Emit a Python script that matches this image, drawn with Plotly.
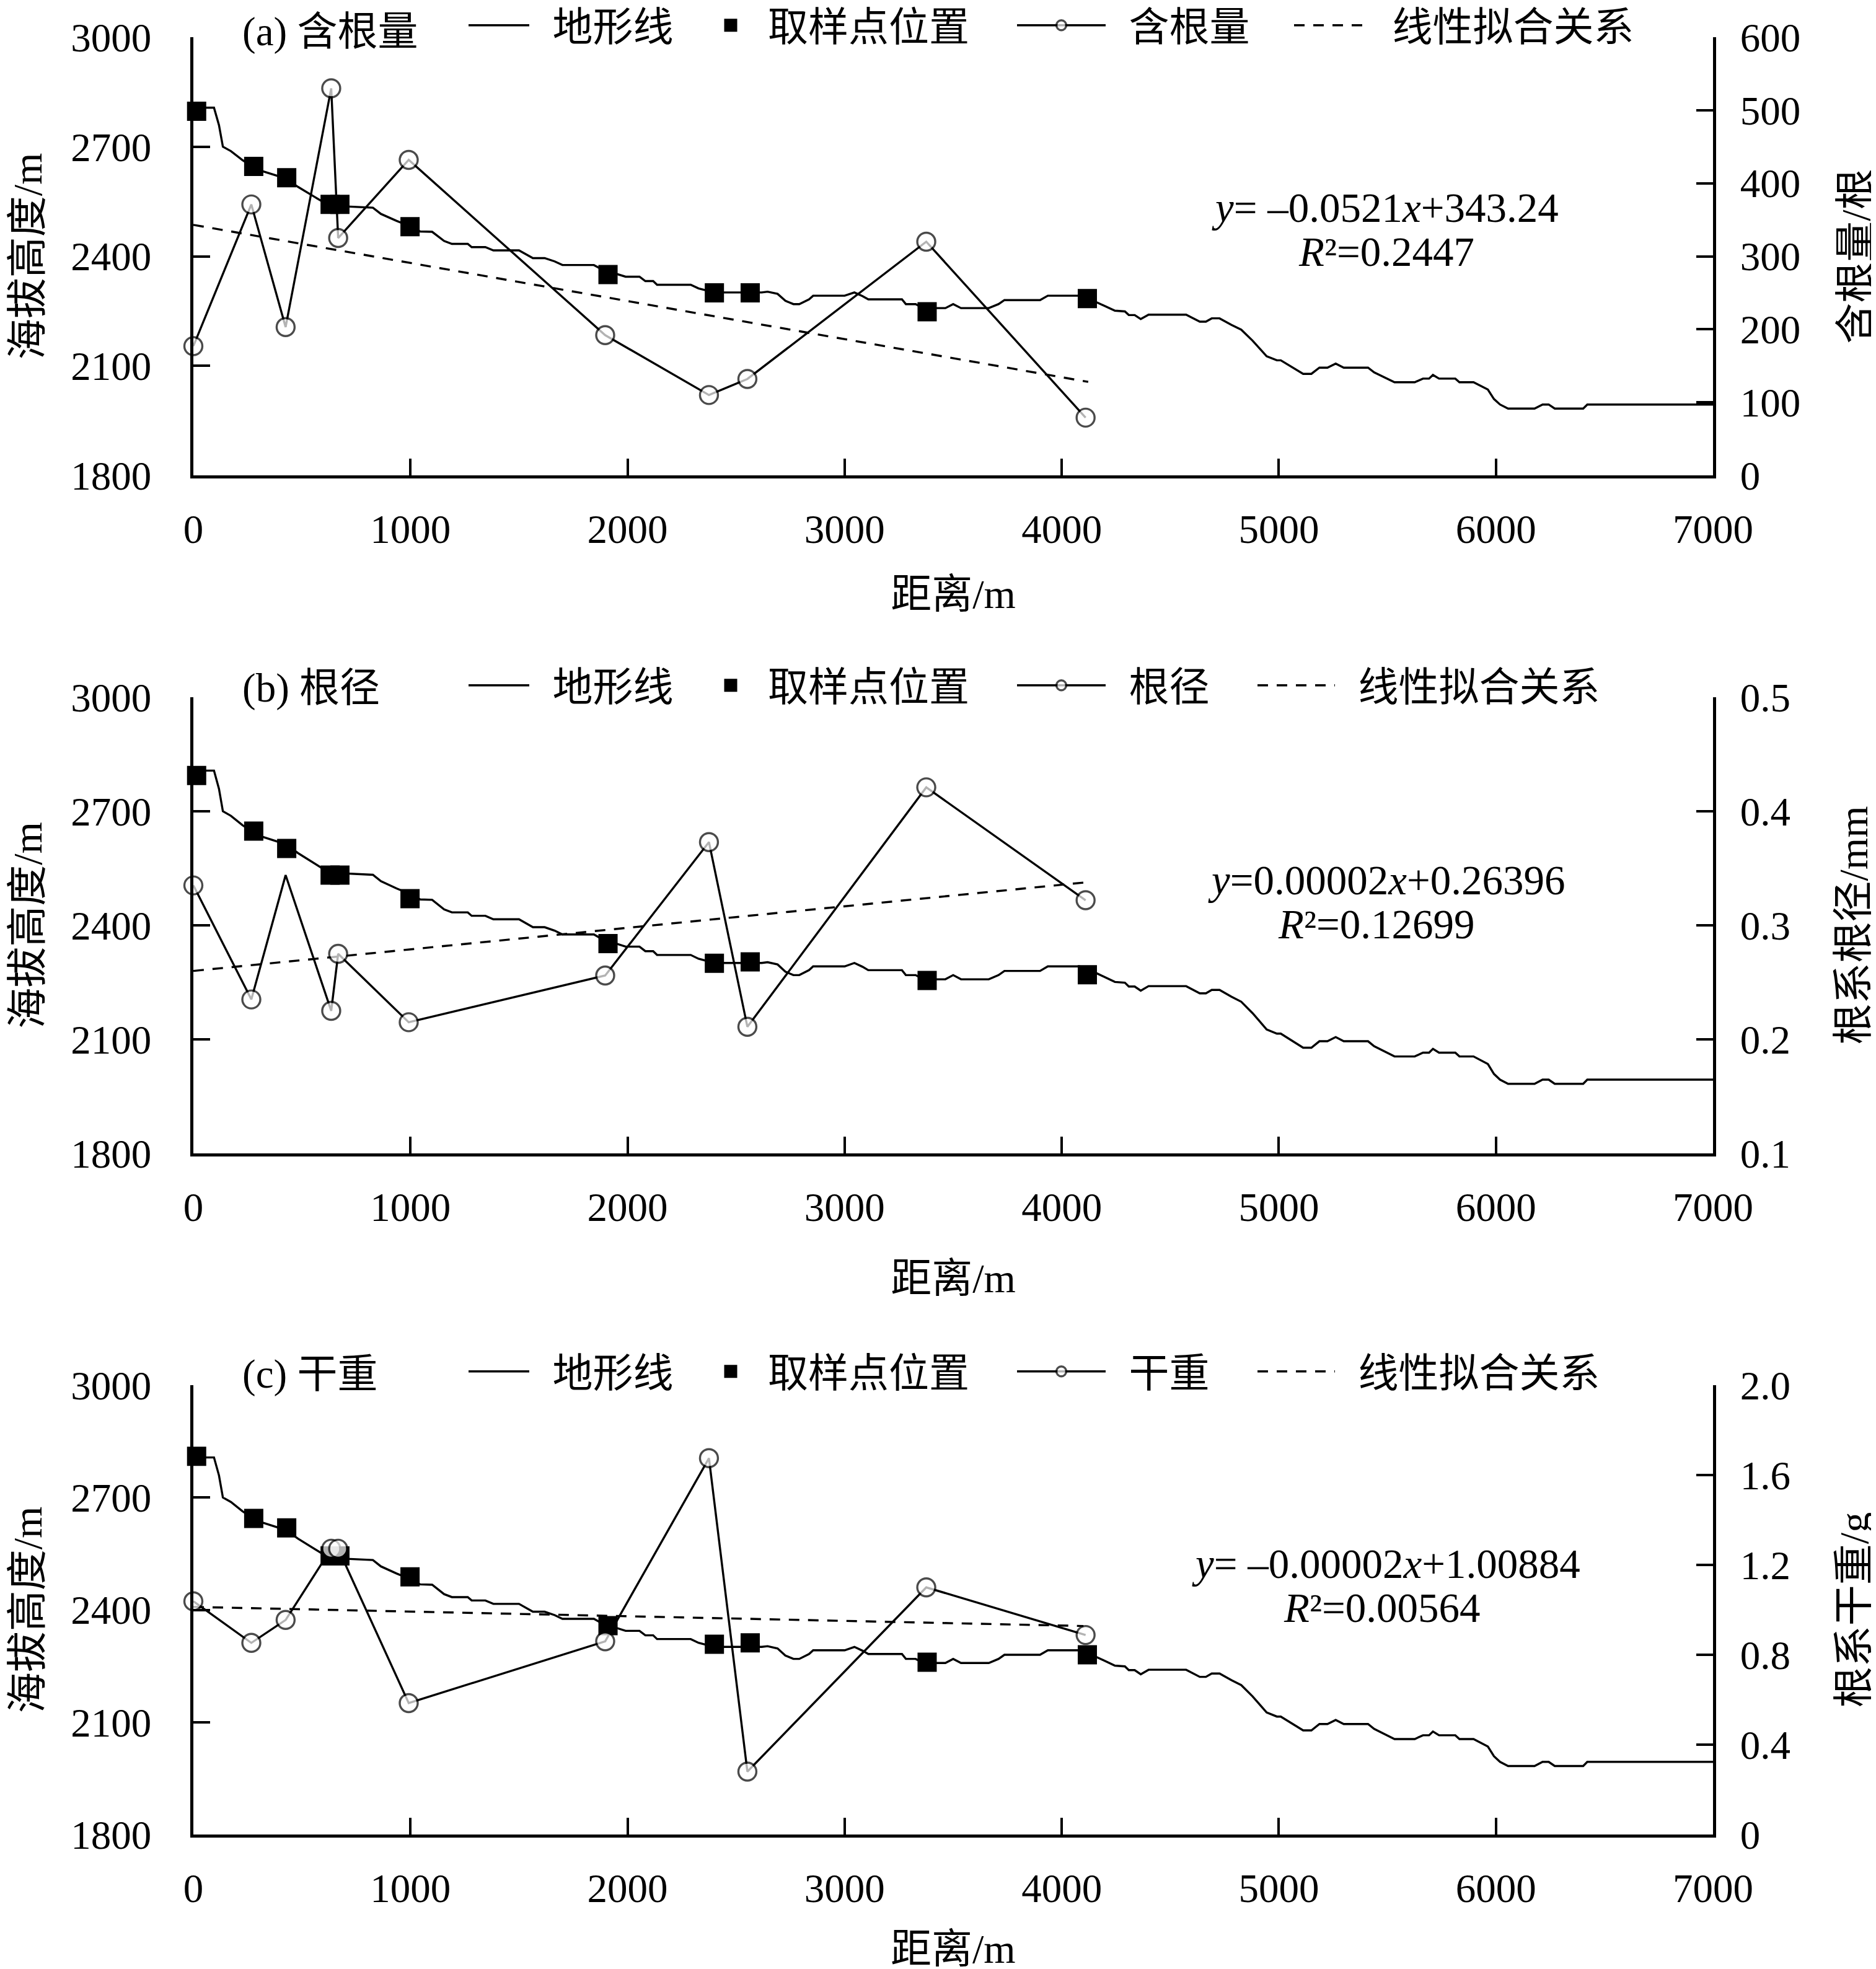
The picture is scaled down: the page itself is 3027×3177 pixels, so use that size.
import plotly.graph_objects as go

# ---------------- data ----------------
terrain_dist = [0, 95, 118, 136, 173, 227, 273, 318, 427, 482, 591, 645, 827, 864, 936, 1000,
                1045, 1100, 1155, 1191, 1264, 1282, 1345, 1382, 1500, 1564, 1618, 1664, 1700,
                1845, 1882, 1991, 2055, 2082, 2118, 2136, 2291, 2327, 2400, 2618, 2645, 2691,
                2727, 2764, 2791, 2836, 2855, 3000, 3045, 3082, 3109, 3264, 3282, 3327, 3373,
                3418, 3464, 3500, 3536, 3664, 3709, 3736, 3900, 3936, 4082, 4164, 4245, 4291,
                4309, 4336, 4364, 4400, 4573, 4636, 4664, 4691, 4727, 4782, 4827, 4879, 4944,
                4991, 5009, 5112, 5150, 5187, 5224, 5262, 5299, 5411, 5439, 5533, 5626, 5664,
                5692, 5710, 5738, 5813, 5832, 5897, 5963, 5991, 6019, 6056, 6178, 6215, 6243,
                6271, 6402, 6421, 7000]
terrain_elev = [2807, 2807, 2759, 2700, 2688, 2663, 2646, 2633, 2613, 2590, 2551, 2538, 2533, 2516, 2497, 2482,
                2468, 2467, 2442, 2434, 2434, 2425, 2425, 2416, 2416, 2395, 2395, 2386, 2376,
                2376, 2364, 2344, 2344, 2332, 2332, 2322, 2322, 2312, 2301, 2301, 2303, 2297,
                2278, 2269, 2269, 2282, 2292, 2292, 2301, 2291, 2282, 2282, 2269, 2269, 2255,
                2258, 2258, 2269, 2258, 2258, 2269, 2280, 2280, 2292, 2292, 2273, 2251, 2249,
                2239, 2239, 2228, 2240, 2240, 2221, 2221, 2230, 2230, 2212, 2199, 2169, 2126,
                2115, 2115, 2078, 2078, 2095, 2095, 2106, 2095, 2095, 2082, 2055, 2055, 2065,
                2065, 2075, 2065, 2065, 2055, 2055, 2035, 2009, 1994, 1983, 1983, 1994, 1994,
                1983, 1983, 1994, 1994]
assert len(terrain_dist) == len(terrain_elev)

site_dist = [15, 278, 430, 630, 675, 998, 1910, 2400, 2565, 3380, 4118]
site_elev_a = [2797, 2646, 2615, 2542, 2542, 2481, 2350, 2300, 2300, 2248, 2284]
site_elev_b = [2794, 2648, 2602, 2532, 2532, 2470, 2352, 2300, 2304, 2255, 2270]
site_elev_c = [2810, 2644, 2619, 2544, 2544, 2488, 2358, 2308, 2312, 2260, 2280]

root_dist = [0, 267, 425, 635, 667, 992, 1897, 2375, 2552, 3376, 4110]
root_count = [177, 371, 203, 530, 325, 432, 192, 110, 132, 320, 79]
root_diam = [0.335, 0.235, 0.344, 0.225, 0.275, 0.215, 0.256, 0.373, 0.211, 0.421, 0.322]
root_weight = [1.038, 0.853, 0.955, 1.272, 1.272, 0.585, 0.860, 1.675, 0.280, 1.100, 0.888]

fit_dist_a = [0, 4122]
fit_count = [343, 128]
fit_dist_b = [0, 4128]
fit_diam = [0.260, 0.338]
fit_dist_c = [0, 4100]
fit_weight = [1.013, 0.928]

x_ticks = [0, 1000, 2000, 3000, 4000, 5000, 6000, 7000]
elev_ticks = [1800, 2100, 2400, 2700, 3000]
count_ticks = [0, 100, 200, 300, 400, 500, 600]
diam_ticks = [0.1, 0.2, 0.3, 0.4, 0.5]
diam_labels = ["0.1", "0.2", "0.3", "0.4", "0.5"]
weight_ticks = [0, 0.4, 0.8, 1.2, 1.6, 2.0]
weight_labels = ["0", "0.4", "0.8", "1.2", "1.6", "2.0"]

MS = 29
panels = [
    dict(tag="(a) 含根量", name="含根量", yr_title="含根量/根", root=root_count, fit_x=fit_dist_a,
         fit=fit_count, site=site_elev_a, yr_range=[0, 600], yr_ticks=count_ticks,
         yr_labels=[str(v) for v in count_ticks], msize=[MS] * 11,
         eq1="<i>y</i>= –0.0521<i>x</i>+343.24", eq2="<i>R</i>²=0.2447"),
    dict(tag="(b) 根径", name="根径", yr_title="根系根径/mm", root=root_diam, fit_x=fit_dist_b,
         fit=fit_diam, site=site_elev_b, yr_range=[0.1, 0.5], yr_ticks=diam_ticks,
         yr_labels=diam_labels, msize=[MS, MS, 0, MS, MS, MS, MS, MS, MS, MS, MS],
         eq1="<i>y</i>=0.00002<i>x</i>+0.26396", eq2="<i>R</i>²=0.12699"),
    dict(tag="(c) 干重", name="干重", yr_title="根系干重/g", root=root_weight, fit_x=fit_dist_c,
         fit=fit_weight, site=site_elev_c, yr_range=[0, 2.0], yr_ticks=weight_ticks,
         yr_labels=weight_labels, msize=[MS] * 11,
         eq1="<i>y</i>= –0.00002<i>x</i>+1.00884", eq2="<i>R</i>²=0.00564"),
]

# ---------------- layout geometry (px) ----------------
W, H = 3027, 3177
L, R = 304, 2756
T, B = 52, 2952
PW, PH = R - L, B - T
panel_px = [(52, 759), (1117, 1853), (2227, 2952)]     # top, bottom of plot areas
legend_row = [37, 1102, 2209]
eq_pos = [((2227, 327), (2229, 398)), ((2229, 1412), (2213, 1483)), ((2228, 2515), (2222, 2586))]
xtitle_standoff = [48, 58]
xtitle_c_center = 3136
yr_title_standoff = [68, 80, 81]
# legend entries: (left edge of legend box, symbol width)
legend_geo = [
    [(743, 98), (1111, 110), (1628, 143), (2075, 121)],
    [(743, 98), (1111, 110), (1628, 143), (2016, 125)],
    [(743, 98), (1111, 110), (1628, 143), (2016, 125)],
]
PAD = "\u00a0\u00a0"

FONT = "Liberation Serif, Noto Sans CJK SC, serif"
CJK = "Liberation Serif, Noto Sans CJK SC, sans-serif"
BLACK = "#000000"


def px2paper_x(px):
    return (px - L) / PW


def px2paper_y(py):
    return (B - py) / PH


fig = go.Figure()
layout = dict(width=W, height=H, margin=dict(l=L, r=W - R, t=T, b=H - B, autoexpand=False),
              paper_bgcolor="white", plot_bgcolor="white", showlegend=True,
              font=dict(family=FONT, size=65, color=BLACK))
annotations = []

for i, p in enumerate(panels):
    xn = "x" if i == 0 else f"x{i + 1}"
    yl = "y" if i == 0 else f"y{2 * i + 1}"
    yr = f"y{2 * i + 2}"
    lg = [("legend" if (4 * i + k) == 0 else f"legend{4 * i + k + 1}") for k in range(4)]

    fig.add_trace(go.Scatter(x=terrain_dist, y=terrain_elev, mode="lines", name=PAD + "地形线",
                             line=dict(color=BLACK, width=3.4), xaxis=xn, yaxis=yl,
                             legend=lg[0], cliponaxis=False, showlegend=True))
    fig.add_trace(go.Scatter(x=site_dist, y=p["site"], mode="markers", name="取样点位置",
                             marker=dict(symbol="square", size=26, color=BLACK,
                                         line=dict(color=BLACK, width=5)),
                             xaxis=xn, yaxis=yl, legend=lg[1], cliponaxis=False, showlegend=True))
    fig.add_trace(go.Scatter(x=p["fit_x"], y=p["fit"], mode="lines", name=PAD + "线性拟合关系",
                             line=dict(color=BLACK, width=3.4, dash="17px,14px"),
                             xaxis=xn, yaxis=yr, legend=lg[3], cliponaxis=False, showlegend=True))
    fig.add_trace(go.Scatter(x=root_dist, y=p["root"], mode="lines+markers", name=PAD + p["name"],
                             line=dict(color=BLACK, width=3.4),
                             marker=dict(symbol="circle", size=p["msize"], color="white",
                                         line=dict(color=BLACK, width=3.4)),
                             xaxis=xn, yaxis=yr, legend=lg[2], cliponaxis=False, showlegend=True))

    top, bot = panel_px[i]
    dom = [max(0.0, px2paper_y(bot)), min(1.0, px2paper_y(top))]
    axis_common = dict(showline=True, linewidth=4.5, linecolor=BLACK, ticks="inside",
                       ticklen=27, tickwidth=4, tickcolor=BLACK, showgrid=False,
                       zeroline=False, mirror=False,
                       tickfont=dict(family=FONT, size=65, color=BLACK))
    xax = dict(axis_common, domain=[0, 1], anchor=yl, range=[0, 7000], tickvals=x_ticks,
               ticklabelstandoff=26, automargin=True)
    if i < 2:
        xax["title"] = dict(text="距离/m", font=dict(family=CJK, size=66),
                            standoff=xtitle_standoff[i])
    else:
        # bottom-most axis title drawn as a centred text below the last panel
        annotations.append(dict(text="距离/m", xref="paper", yref="paper", x=0.5,
                                y=px2paper_y(xtitle_c_center), xanchor="center",
                                yanchor="middle", showarrow=False,
                                font=dict(family=CJK, size=66, color=BLACK)))
    layout["xaxis" if i == 0 else f"xaxis{i + 1}"] = xax
    layout["yaxis" if i == 0 else f"yaxis{2 * i + 1}"] = dict(
        axis_common, domain=dom, anchor=xn, range=[1800, 3000], tickvals=elev_ticks,
        ticklabelstandoff=50, automargin=False,
        title=dict(text="海拔高度/m", font=dict(family=CJK, size=66), standoff=49))
    layout[f"yaxis{2 * i + 2}"] = dict(
        axis_common, domain=dom, anchor=xn, overlaying=yl, side="right",
        range=p["yr_range"], tickvals=p["yr_ticks"], ticktext=p["yr_labels"],
        ticklabelstandoff=26, automargin=False,
        title=dict(text=p["yr_title"], font=dict(family=CJK, size=66),
                   standoff=yr_title_standoff[i]))

    # legends, one per entry, placed along the row above each panel
    ly = 1 - (legend_row[i] - 4) / H
    for k in range(4):
        lx, iw = legend_geo[i][k]
        layout[lg[k]] = dict(x=(lx - L) / PW, y=ly, xanchor="left", yanchor="middle",
                             yref="container", orientation="h", bgcolor="rgba(0,0,0,0)",
                             font=dict(family=CJK, size=65, color=BLACK), itemwidth=iw,
                             borderwidth=0)
    annotations.append(dict(text=p["tag"], xref="paper", yref="paper",
                            x=px2paper_x(381), y=px2paper_y(max(legend_row[i], 43)),
                            xanchor="left", yanchor="middle", showarrow=False,
                            font=dict(family=CJK, size=65, color=BLACK)))
    (x1, y1), (x2, y2) = eq_pos[i]
    annotations.append(dict(text=p["eq1"], xref="paper", yref="paper",
                            x=px2paper_x(x1), y=px2paper_y(y1), xanchor="center",
                            yanchor="middle", showarrow=False,
                            font=dict(family=FONT, size=67, color=BLACK)))
    annotations.append(dict(text=p["eq2"], xref="paper", yref="paper",
                            x=px2paper_x(x2), y=px2paper_y(y2), xanchor="center",
                            yanchor="middle", showarrow=False,
                            font=dict(family=FONT, size=67, color=BLACK)))

layout["annotations"] = annotations
fig.update_layout(**layout)
fig.write_html("out.html")
